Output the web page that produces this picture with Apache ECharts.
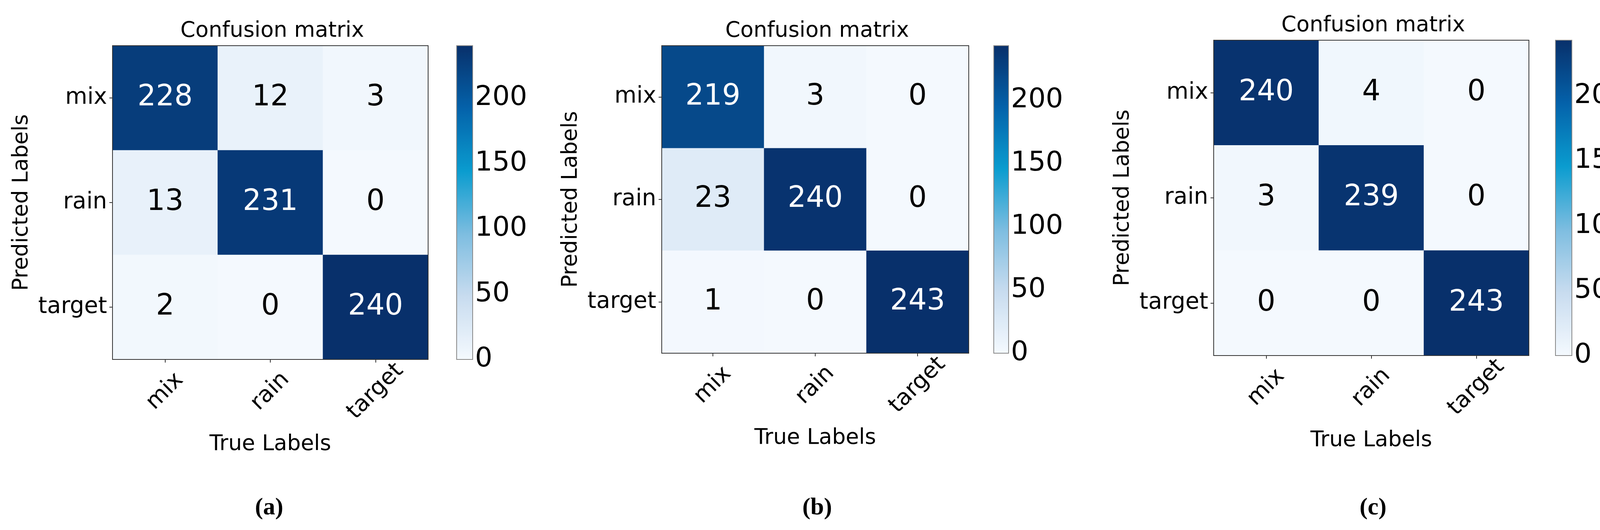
<!DOCTYPE html>
<html>
<head>
<meta charset="utf-8">
<script src="https://cdn.jsdelivr.net/npm/echarts@6/dist/echarts.min.js"></script>
<style>
  html, body { margin: 0; padding: 0; background: #fff; overflow: hidden; }
  #chart { width: 4194px; height: 1358px; }
</style>
</head>
<body>
<div id="chart"></div>
<script>
const labels = ['mix', 'rain', 'target'];
const cbTicks = [0, 50, 100, 150, 200];
// rows = predicted, cols = true
const matrixA = [[228, 12, 3], [13, 231, 0], [2, 0, 240]];
const matrixB = [[219, 3, 0], [23, 240, 0], [1, 0, 243]];
const matrixC = [[240, 4, 0], [3, 239, 0], [0, 0, 243]];
const captions = ['a', 'b', 'c'];

const blues = ['#f4f9fe', '#c8dcef', '#7dbde0', '#0a9ccf', '#0462aa', '#08306b'];
const font = 'DejaVu Sans';

// panel layout
const panels = [
  { m: matrixA, grid: [288, 117, 808, 804], cb: [1169, 41], cx: 684 },
  { m: matrixB, grid: [1694, 117, 786, 788], cb: [2544, 38], cx: 2087 },
  { m: matrixC, grid: [3107, 103, 807, 808], cb: [3982, 42], cx: 3510 },
];

const chart = echarts.init(document.getElementById('chart'));
const grid = [], xAxis = [], yAxis = [], series = [], visualMap = [], title = [];

panels.forEach((p, i) => {
  const [left, top, width, height] = p.grid;
  const max = Math.max(...p.m.flat());
  const data = [];
  p.m.forEach((row, r) => row.forEach((v, c) => {
    data.push({ value: [c, r, v], label: { color: v > max / 2 ? '#fff' : '#000' } });
  }));

  grid.push({ left, top, width, height, show: true, borderColor: '#333', borderWidth: 2, backgroundColor: 'transparent', z: 3 });
  xAxis.push({
    type: 'category', gridIndex: 2 * i, data: labels,
    name: 'True Labels', nameLocation: 'middle', nameGap: 190,
    nameTextStyle: { fontFamily: font, fontSize: 55, color: '#000' },
    axisLine: { show: false },
    axisTick: { show: true, alignWithLabel: true, length: 8, lineStyle: { color: '#333', width: 2 } },
    axisLabel: { rotate: 45, align: 'center', verticalAlign: 'middle', margin: 82, fontFamily: font, fontSize: 58, color: '#000' },
    splitLine: { show: false },
  });
  yAxis.push({
    type: 'category', gridIndex: 2 * i, data: labels, inverse: true,
    name: 'Predicted Labels', nameLocation: 'middle', nameRotate: 90, nameGap: 205,
    nameTextStyle: { fontFamily: font, fontSize: 55, color: '#000' },
    axisLine: { show: false },
    axisTick: { show: true, alignWithLabel: true, length: 8, lineStyle: { color: '#333', width: 2 } },
    axisLabel: { margin: 14, fontFamily: font, fontSize: 58, color: '#000' },
    splitLine: { show: false },
  });
  series.push({
    type: 'heatmap', xAxisIndex: 2 * i, yAxisIndex: 2 * i, data,
    label: { show: true, fontFamily: font, fontSize: 74 },
    emphasis: { disabled: true },
  });

  // colorbar: visualMap bar plus a value axis for its ticks
  const [cbLeft, cbWidth] = p.cb;
  grid.push({ left: cbLeft, top, width: cbWidth, height, show: true, borderColor: '#888', borderWidth: 2, backgroundColor: 'transparent', z: 5 });
  xAxis.push({ type: 'value', gridIndex: 2 * i + 1, show: false });
  yAxis.push({
    type: 'value', gridIndex: 2 * i + 1, position: 'right', min: 0, max,
    axisLine: { show: false },
    axisTick: { show: true, length: 10, lineStyle: { color: '#333', width: 2 }, customValues: cbTicks },
    axisLabel: { margin: 6, fontFamily: font, fontSize: 70, color: '#000', customValues: cbTicks },
    splitLine: { show: false },
  });
  visualMap.push({
    type: 'continuous', seriesIndex: i, min: 0, max,
    left: cbLeft, top, itemWidth: cbWidth, itemHeight: height,
    padding: 0, text: ['', ''], showLabel: false, calculable: false, hoverLink: false,
    inRange: { color: blues },
  });

  title.push({
    text: 'Confusion matrix', left: left + width / 2, top: top - 70, textAlign: 'center',
    textStyle: { fontFamily: font, fontSize: 55, fontWeight: 'normal', color: '#000' },
  });
  title.push({
    text: '{p|(}{b|' + captions[i] + '}{p|)}', left: p.cx, top: 1266, textAlign: 'center',
    textStyle: { rich: {
      p: { fontFamily: 'Liberation Serif', fontSize: 62, color: '#000' },
      b: { fontFamily: 'Liberation Serif', fontSize: 62, fontWeight: 'bold', color: '#000' },
    } },
  });
});

chart.setOption({ backgroundColor: '#fff', animation: false, title, grid, xAxis, yAxis, visualMap, series });
</script>
</body>
</html>
